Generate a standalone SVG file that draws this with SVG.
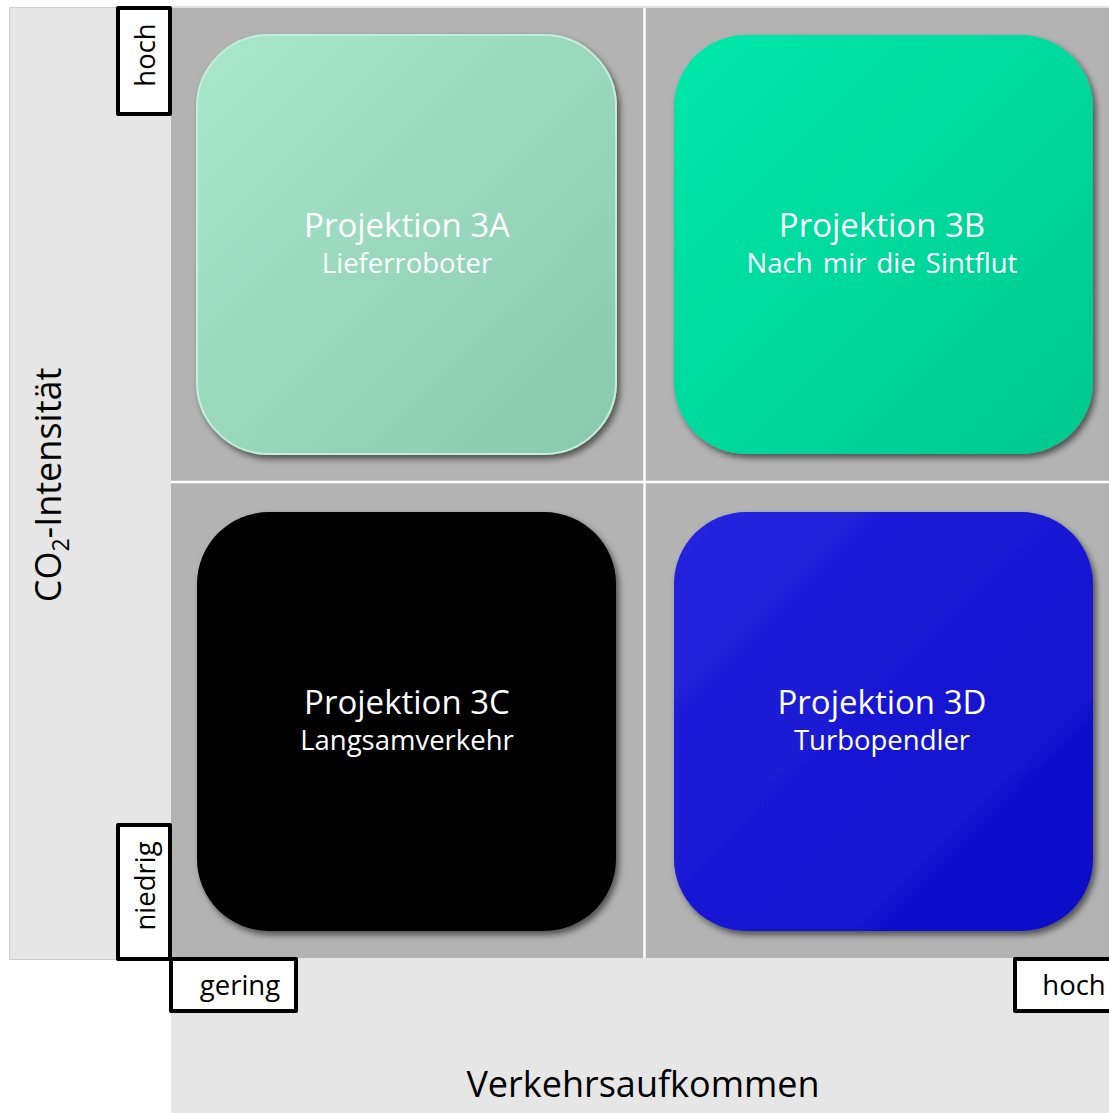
<svg xmlns="http://www.w3.org/2000/svg" width="1109" height="1113" viewBox="0 0 1109 1113">
<defs>
<style>
.t1{font-family:"Open Sans",Lato,sans-serif;font-size:33px;fill:#fff;text-anchor:middle}
.t2{font-family:"Open Sans",Lato,sans-serif;font-size:27.5px;fill:#fff;text-anchor:middle}
.ax{font-family:"Open Sans",Lato,sans-serif;font-size:36px;fill:#000;text-anchor:middle}
.lb{font-family:"Open Sans",Lato,sans-serif;font-size:27.5px;fill:#000;text-anchor:middle}
.box{fill:#fff;stroke:#000;stroke-width:4;stroke-linejoin:round}
</style>
<filter id="sh" x="-10%" y="-10%" width="125%" height="125%">
<feDropShadow dx="3" dy="4" stdDeviation="3" flood-color="#000" flood-opacity="0.55"/>
</filter>
<linearGradient id="gA" x1="0" y1="0" x2="1" y2="1">
<stop offset="0" stop-color="#a9e7cd"/><stop offset="1" stop-color="#88c9ad"/>
</linearGradient>
<linearGradient id="gB" x1="0" y1="0" x2="1" y2="1">
<stop offset="0" stop-color="#00e8aa"/><stop offset="1" stop-color="#00c98f"/>
</linearGradient>
<linearGradient id="gD" x1="0" y1="0" x2="1" y2="1">
<stop offset="0" stop-color="#2626de"/><stop offset="1" stop-color="#0a0ac8"/>
</linearGradient>
</defs>
<rect x="0" y="0" width="1109" height="1113" fill="#fff"/>
<g id="axes">
<rect x="9.5" y="7.5" width="162" height="952" fill="#e6e6e6" stroke="#cfcfcf" stroke-width="1"/>
<rect x="171" y="958" width="938" height="155" fill="#e6e6e6"/>
<rect x="171" y="8" width="938" height="950" fill="#b3b3b3"/>
<line x1="171" y1="7" x2="1109" y2="7" stroke="#e0e0e0" stroke-width="2"/>
<line x1="644.5" y1="8" x2="644.5" y2="958" stroke="#fff" stroke-width="2.5"/>
<line x1="171" y1="482" x2="1109" y2="482" stroke="#fff" stroke-width="2.5"/>
<text class="ax" transform="translate(61,485) rotate(-90)">CO<tspan font-size="23" dy="8">2</tspan><tspan dy="-8">-Intensität</tspan></text>
<text class="ax" x="643" y="1097">Verkehrsaufkommen</text>
</g>
<g id="label-hoch-y"><rect class="box" x="118" y="8" width="52" height="106"/><text class="lb" transform="translate(155,55) rotate(-90)">hoch</text></g>
<g id="label-niedrig"><rect class="box" x="118" y="825" width="52" height="134"/><text class="lb" transform="translate(155,886) rotate(-90)">niedrig</text></g>
<g id="label-gering"><rect class="box" x="171" y="959" width="125" height="52"/><text class="lb" x="240" y="995">gering</text></g>
<g id="label-hoch-x"><rect class="box" x="1015" y="959" width="100" height="52"/><text class="lb" x="1074" y="995">hoch</text></g>
<g id="node-3A"><rect x="197" y="35" width="419" height="419" rx="72" fill="url(#gA)" stroke="#c2eedb" stroke-width="2" filter="url(#sh)"/>
<text class="t1" x="407" y="237">Projektion 3A</text><text class="t2" x="407" y="273">Lieferroboter</text></g>
<g id="node-3B"><rect x="674" y="35" width="419" height="419" rx="72" fill="url(#gB)" filter="url(#sh)"/>
<text class="t1" x="882" y="237">Projektion 3B</text><text class="t2" x="882" y="273" font-size="28" word-spacing="3">Nach mir die Sintflut</text></g>
<g id="node-3C"><rect x="197" y="512" width="419" height="419" rx="72" fill="#000" filter="url(#sh)"/>
<text class="t1" x="407" y="714">Projektion 3C</text><text class="t2" x="407" y="750">Langsamverkehr</text></g>
<g id="node-3D"><rect x="674" y="512" width="419" height="419" rx="72" fill="url(#gD)" filter="url(#sh)"/>
<text class="t1" x="882" y="714">Projektion 3D</text><text class="t2" x="882" y="750">Turbopendler</text></g>
<g id="connectors"/>
</svg>
